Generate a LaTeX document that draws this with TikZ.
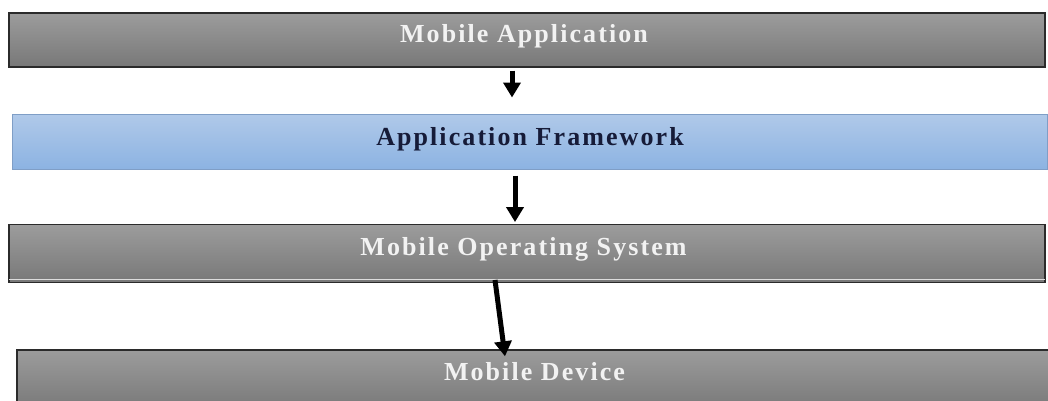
\documentclass[tikz,border=0pt]{standalone}
\usepackage{fontspec}
\setmainfont{Liberation Serif}
\newfontfamily\layerfont[LetterSpace=8]{Liberation Serif}
\usetikzlibrary{arrows.meta}

\definecolor{boxedge}{HTML}{2B2B2B}
\definecolor{graytop}{HTML}{9C9C9C}
\definecolor{graybot}{HTML}{787878}
\definecolor{bluetop}{HTML}{B0C9E9}
\definecolor{bluebot}{HTML}{8CB3E2}
\definecolor{blueedge}{HTML}{7F9EC6}
\definecolor{navytext}{HTML}{161B38}
\definecolor{lighttext}{HTML}{F2F2F2}

\tikzset{
  graybox/.style={rectangle, draw=boxedge, line width=1.4pt,
    top color=graytop, bottom color=graybot, inner sep=0pt},
  bluebox/.style={rectangle, draw=blueedge, line width=1pt,
    top color=bluetop, bottom color=bluebot, inner sep=0pt},
  layertext/.style={font=\layerfont\bfseries\fontsize{26}{30}\selectfont,
    inner sep=0pt, anchor=base},
  graylabel/.style={layertext, text=lighttext},
  bluelabel/.style={layertext, text=navytext},
  flow/.style={line width=5pt, -{Triangle[width=17pt,length=15pt]}}
}

\begin{document}
\begin{tikzpicture}[x=1pt,y=-1pt]
  \clip (0,0) rectangle (1048,400);
  \fill[white] (0,0) rectangle (1048,400);

  % layer boxes
  \node[graybox, minimum width=1036pt, minimum height=54pt] (app) at (527,40) {};
  \node[bluebox, minimum width=1035pt, minimum height=55pt] (fw) at (530,141.5) {};
  \node[graybox, minimum width=1036pt, minimum height=57.5pt] (os) at (527,253.5) {};
  \draw[white!75!graybot, line width=1pt]
    ([xshift=1pt,yshift=3pt]os.south west) -- ([xshift=-1pt,yshift=3pt]os.south east);
  \node[graybox, minimum width=1046pt, minimum height=60pt] (dev) at (540,380) {};

  % layer names
  \node[graylabel] (appT) at (524,42) {Mobile Application};
  \node[bluelabel] (fwT) at (530,145) {Application Framework};
  \node[graylabel] (osT) at (523.5,255) {Mobile Operating System};
  \node[graylabel] (devT) at (534.5,380) {Mobile Device};

  % flow between layers
  \draw[flow] ([xshift=-15pt,yshift=-3pt]app.south) -- ([xshift=-18pt,yshift=16pt]fw.north);
  \draw[flow] ([xshift=-15pt,yshift=-6pt]fw.south) -- ([xshift=-12pt,yshift=2pt]os.north);
  \draw[flow] ([xshift=-32pt,yshift=3pt]os.south) -- ([xshift=-35pt,yshift=-7pt]dev.north);
\end{tikzpicture}
\end{document}
